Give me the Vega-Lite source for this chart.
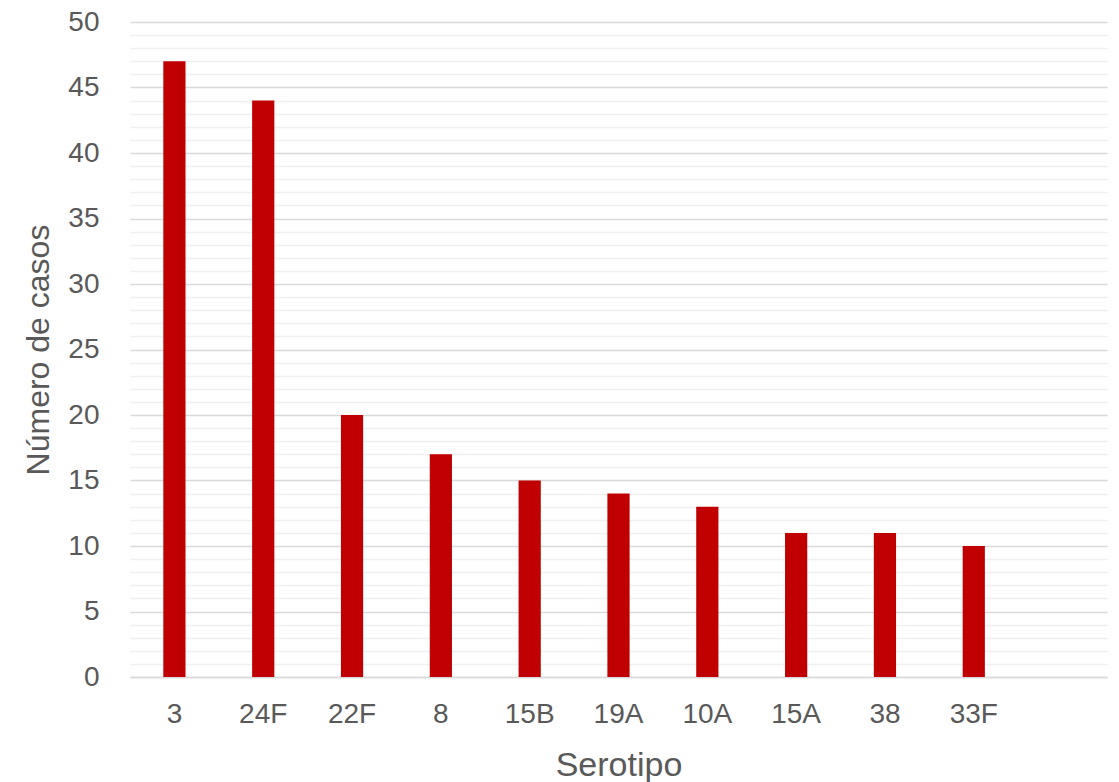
{
  "$schema": "https://vega.github.io/schema/vega-lite/v6.json",
  "width": 977,
  "height": 655,
  "autosize": {"type": "none"},
  "padding": {"left": 130, "top": 22, "right": 12, "bottom": 105},
  "background": "#ffffff",
  "config": {
    "view": {"stroke": null},
    "font": "Liberation Sans"
  },
  "data": {
    "values": [
      {"serotipo": "3", "casos": 47},
      {"serotipo": "24F", "casos": 44},
      {"serotipo": "22F", "casos": 20},
      {"serotipo": "8", "casos": 17},
      {"serotipo": "15B", "casos": 15},
      {"serotipo": "19A", "casos": 14},
      {"serotipo": "10A", "casos": 13},
      {"serotipo": "15A", "casos": 11},
      {"serotipo": "38", "casos": 11},
      {"serotipo": "33F", "casos": 10}
    ]
  },
  "mark": {"type": "bar", "color": "#C00000"},
  "encoding": {
    "x": {
      "field": "serotipo",
      "type": "nominal",
      "sort": null,
      "scale": {
        "domain": ["3", "24F", "22F", "8", "15B", "19A", "10A", "15A", "38", "33F", " "],
        "paddingInner": 0.75,
        "paddingOuter": 0.375
      },
      "axis": {
        "title": "Serotipo",
        "titleFontSize": 34,
        "titleFontWeight": "normal",
        "titleColor": "#595959",
        "titlePadding": 20,
        "labelAngle": 0,
        "labelFontSize": 28,
        "labelColor": "#595959",
        "labelPadding": 23,
        "ticks": false,
        "domainColor": "#d9d9d9",
        "domainWidth": 1.5,
        "grid": false
      }
    },
    "y": {
      "field": "casos",
      "type": "quantitative",
      "scale": {"domain": [0, 50], "nice": false},
      "axis": {
        "title": "Número de casos",
        "titleFontSize": 32,
        "titleFontWeight": "normal",
        "titleColor": "#595959",
        "titlePadding": 12,
        "values": [0,1,2,3,4,5,6,7,8,9,10,11,12,13,14,15,16,17,18,19,20,21,22,23,24,25,26,27,28,29,30,31,32,33,34,35,36,37,38,39,40,41,42,43,44,45,46,47,48,49,50],
        "labelExpr": "datum.value % 5 === 0 ? datum.label : ''",
        "labelFontSize": 28,
        "labelColor": "#595959",
        "labelPadding": 31,
        "ticks": false,
        "domain": false,
        "grid": true,
        "gridColor": {"condition": {"test": "datum.value % 5 === 0", "value": "#d9d9d9"}, "value": "#f0f0f0"},
        "gridWidth": 1.5
      }
    }
  }
}
